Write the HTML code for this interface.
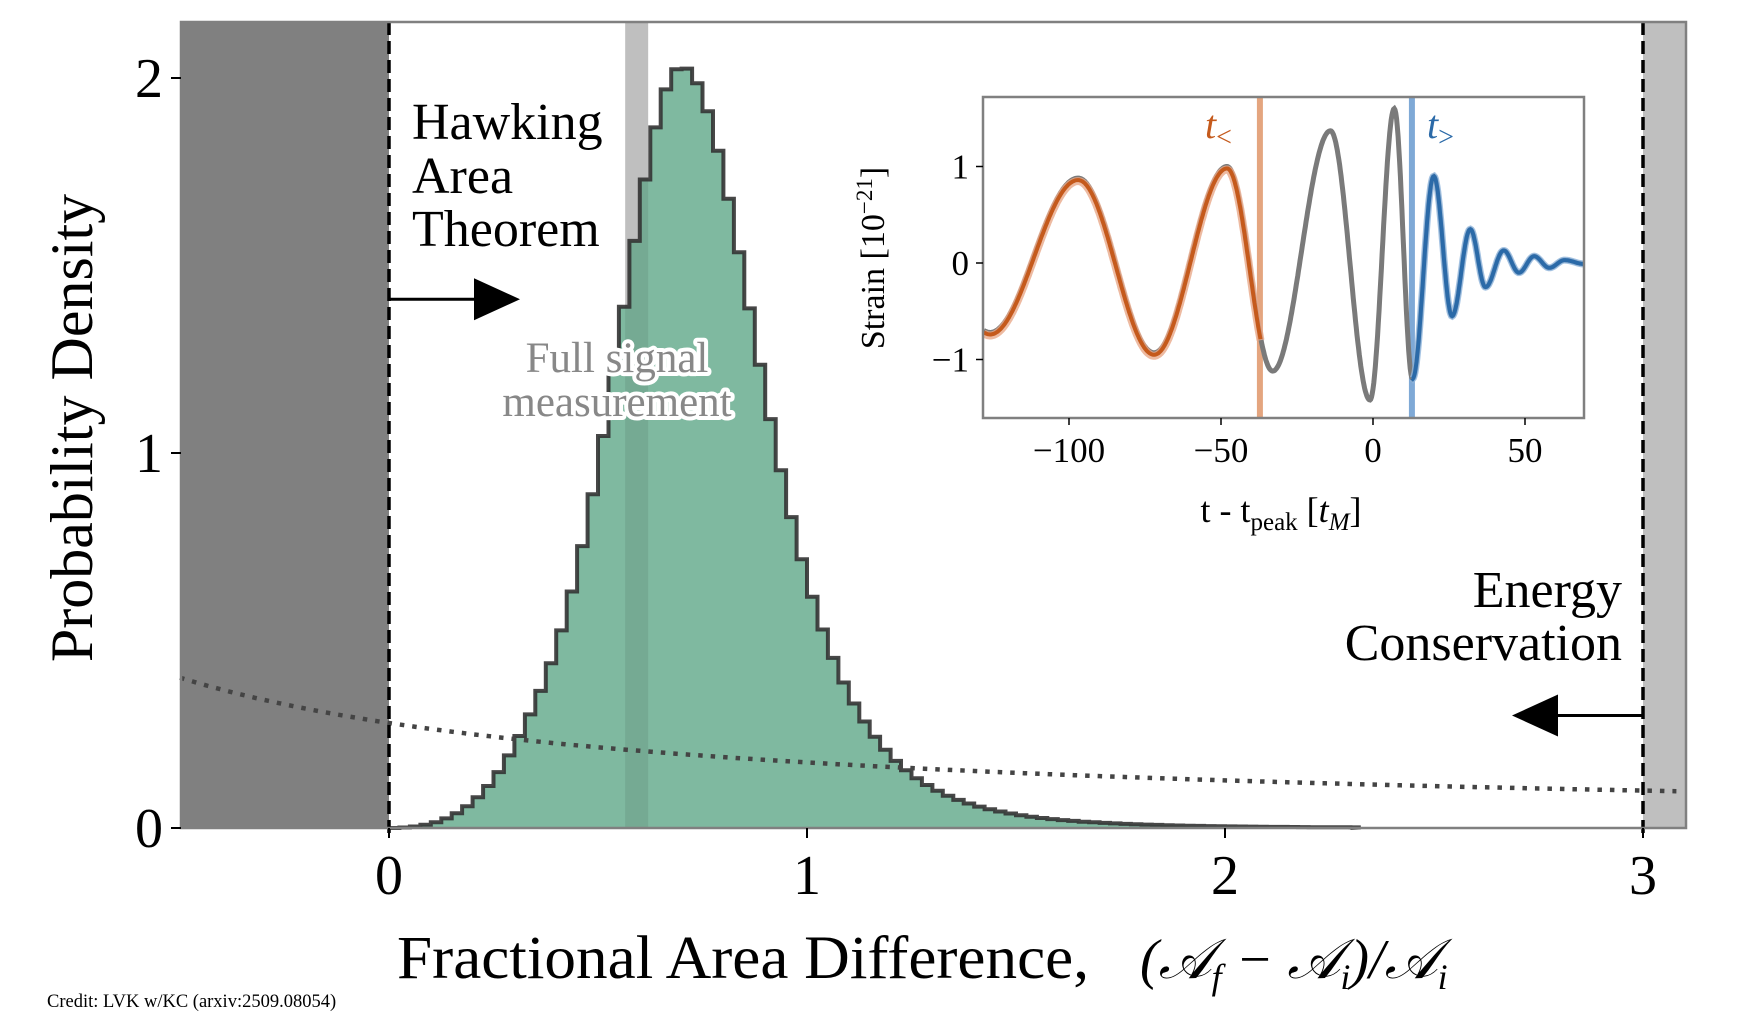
<!DOCTYPE html>
<html><head><meta charset="utf-8"><style>
html,body{margin:0;padding:0;background:#fff}
svg{display:block}
text{font-family:"Liberation Serif",serif}
</style></head><body>
<svg id="s" width="1742" height="1036" viewBox="0 0 1742 1036" xmlns="http://www.w3.org/2000/svg"></svg>
<script>
const S=document.getElementById('s');
let h='';
const X=x=>389+x*418, Y=y=>828-y*375;
const L=181,R=1686,T=22,B=828;
h+=`<rect x="${L}" y="${T}" width="${X(0)-L}" height="${B-T}" fill="#808080"/>`;
h+=`<rect x="${X(3)}" y="${T}" width="${R-X(3)}" height="${B-T}" fill="#bfbfbf"/>`;
h+=`<rect x="${X(0.565)}" y="${T}" width="${X(0.62)-X(0.565)}" height="${B-T}" fill="#bfbfbf"/>`;
function f(x){const m=0.7;const d=x-m;const s=d<0?0.17:0.2;const u=d/s;let v=2.03*Math.pow(1+u*u/4,-2.5);
 if(x<0.35){const c=Math.max(0,x/0.35);v*=c*c*(3-2*c);} return v;}
let p=`M${X(0)} ${Y(0)}`;const w=0.025;
for(let x=0;x<2.3;x+=w){const v=f(x+w/2);p+=` L${X(x).toFixed(1)} ${Y(v).toFixed(1)} L${X(x+w).toFixed(1)} ${Y(v).toFixed(1)}`;}
p+=` L${X(2.3)} ${Y(0)}`;
h+=`<defs><clipPath id="hc"><path d="${p} Z"/></clipPath></defs>`;
h+=`<path d="${p} Z" fill="#7fb9a0"/>`;
h+=`<rect x="${X(0.565)}" y="${T}" width="${X(0.62)-X(0.565)}" height="${B-T}" fill="rgba(0,0,0,0.08)" clip-path="url(#hc)"/>`;
h+=`<path d="${p}" fill="none" stroke="#333" stroke-width="4" opacity="0.9"/>`;
let d='';for(let x=-0.5;x<=3.1;x+=0.02){const v=0.465/(x+1.66);d+=(d?' L':'M')+X(x).toFixed(1)+' '+Y(v).toFixed(1);}
h+=`<path d="${d}" fill="none" stroke="#444" stroke-width="4.5" stroke-dasharray="4.5 8"/>`;
h+=`<line x1="${X(0)}" y1="${T}" x2="${X(0)}" y2="${B+10}" stroke="#000" stroke-width="3.5" stroke-dasharray="13 6"/>`;
h+=`<line x1="${X(3)}" y1="${T}" x2="${X(3)}" y2="${B+10}" stroke="#000" stroke-width="3.5" stroke-dasharray="13 6"/>`;
let ay=Y(1.41);
h+=`<line x1="${X(0)}" y1="${ay}" x2="${X(0)+90}" y2="${ay}" stroke="#000" stroke-width="3"/><polygon points="${X(0)+85},${ay-21} ${X(0)+131},${ay} ${X(0)+85},${ay+21}" fill="#000"/>`;
ay=Y(0.30);
h+=`<line x1="${X(3)}" y1="${ay}" x2="${X(3)-90}" y2="${ay}" stroke="#000" stroke-width="3"/><polygon points="${X(3)-85},${ay-21} ${X(3)-131},${ay} ${X(3)-85},${ay+21}" fill="#000"/>`;
h+=`<rect x="${L}" y="${T}" width="${R-L}" height="${B-T}" fill="none" stroke="#808080" stroke-width="2.5"/>`;
[0,1,2].forEach(v=>{h+=`<line x1="${L-10}" y1="${Y(v)}" x2="${L}" y2="${Y(v)}" stroke="#000" stroke-width="2"/><text x="${L-18}" y="${Y(v)+19}" font-size="56" text-anchor="end">${v}</text>`;});
[0,1,2,3].forEach(v=>{h+=`<line x1="${X(v)}" y1="${B}" x2="${X(v)}" y2="${B+10}" stroke="#000" stroke-width="2"/><text x="${X(v)}" y="${B+66}" font-size="56" text-anchor="middle">${v}</text>`;});
h+=`<text x="0" y="0" font-size="60" text-anchor="middle" transform="translate(92,428) rotate(-90)">Probability Density</text>`;
h+=`<text x="397" y="978" font-size="61" textLength="692" lengthAdjust="spacingAndGlyphs">Fractional Area Difference,</text>`;
h+=`<text x="1140" y="978" font-size="56" font-style="italic">(𝒜<tspan font-size="36" dy="11">f</tspan><tspan dy="-11"> − 𝒜</tspan><tspan font-size="36" dy="11">i</tspan><tspan dy="-11">)/𝒜</tspan><tspan font-size="36" dy="11">i</tspan></text>`;
h+=`<text font-size="52" x="412" y="139">Hawking</text><text font-size="52" x="412" y="193">Area</text><text font-size="52" x="412" y="246">Theorem</text>`;
h+=`<text font-size="52" x="1622" y="607" text-anchor="end">Energy</text><text font-size="52" x="1622" y="660" text-anchor="end">Conservation</text>`;
h+=`<g font-size="43" text-anchor="middle" stroke-linejoin="round"><text x="617" y="372" stroke="#fff" stroke-width="8" fill="#fff">Full signal</text><text x="617" y="372" fill="#888">Full signal</text><text x="617" y="416" stroke="#fff" stroke-width="8" fill="#fff">measurement</text><text x="617" y="416" fill="#888">measurement</text></g>`;
h+=`<text x="47" y="1007" font-size="18.5">Credit: LVK w/KC (arxiv:2509.08054)</text>`;
const iL=983,iR=1584,iT=97,iB=418;
const tx=t=>1373+t*3.04, ty=y=>263-y*96.5;
h+=`<rect x="${iL}" y="${iT}" width="${iR-iL}" height="${iB-iT}" fill="#fff"/>`;
const ex=[[-130,-0.68],[-126,-0.72],[-97,0.88],[-72,-0.93],[-48,1.0],[-33,-1.12],[-14,1.37],[-1,-1.42],[7,1.6],[13,-1.2],[20,0.9],[26,-0.55],[32,0.35],[37,-0.25],[43,0.13],[48,-0.1],[53,0.07],[58,-0.05],[63,0.03],[69.5,-0.01]];
function wv(t){for(let i=0;i<ex.length-1;i++){const a=ex[i],b=ex[i+1];if(t>=a[0]&&t<=b[0]){const u=(t-a[0])/(b[0]-a[0]);const c=(1-Math.cos(Math.PI*u))/2;return a[1]+(b[1]-a[1])*c;}}return 0;}
function seg(t0,t1,o){o=o||0;let s='';for(let t=t0;t<=t1;t+=0.25){const tt=Math.max(-128,Math.min(69.4,t));s+=(s?' L':'M')+tx(tt).toFixed(1)+' '+(ty(wv(tt))+o).toFixed(1);}return s;}
h+=`<line x1="${tx(-37.2)}" y1="${iT}" x2="${tx(-37.2)}" y2="${iB}" stroke="#e4a57f" stroke-width="6"/>`;
h+=`<line x1="${tx(12.8)}" y1="${iT}" x2="${tx(12.8)}" y2="${iB}" stroke="#7fa9d6" stroke-width="6"/>`;
h+=`<path d="${seg(-128,69.4)}" fill="none" stroke="#7a7a7a" stroke-width="5"/>`;
h+=`<path d="${seg(-128,-37,3)}" fill="none" stroke="#e8a98a" stroke-width="8" opacity="0.8"/>`;
h+=`<path d="${seg(-128,-37,2)}" fill="none" stroke="#c55a1c" stroke-width="4"/>`;
h+=`<path d="${seg(12.8,69.4)}" fill="none" stroke="#8db4dc" stroke-width="7" opacity="0.8"/>`;
h+=`<path d="${seg(12.8,69.4)}" fill="none" stroke="#2b6aa8" stroke-width="4"/>`;
h+=`<rect x="${iL}" y="${iT}" width="${iR-iL}" height="${iB-iT}" fill="none" stroke="#808080" stroke-width="2.5"/>`;
[[-100,'−100'],[-50,'−50'],[0,'0'],[50,'50']].forEach(([v,s])=>{h+=`<line x1="${tx(v)}" y1="${iB}" x2="${tx(v)}" y2="${iB+7}" stroke="#000" stroke-width="1.5"/><text x="${tx(v)}" y="${iB+44}" font-size="35" text-anchor="middle">${s}</text>`;});
[[1,'1'],[0,'0'],[-1,'−1']].forEach(([v,s])=>{h+=`<line x1="${iL-7}" y1="${ty(v)}" x2="${iL}" y2="${ty(v)}" stroke="#000" stroke-width="1.5"/><text x="${iL-14}" y="${ty(v)+12}" font-size="35" text-anchor="end">${s}</text>`;});
h+=`<text font-size="36" text-anchor="middle" x="1281" y="522">t - t<tspan font-size="25" dy="8">peak</tspan><tspan dy="-8"> [</tspan><tspan font-style="italic">t</tspan><tspan font-style="italic" font-size="25" dy="8">M</tspan><tspan dy="-8">]</tspan></text>`;
h+=`<text font-size="34" text-anchor="middle" transform="translate(884,258) rotate(-90)">Strain [10<tspan font-size="23" dy="-12">−21</tspan><tspan dy="12">]</tspan></text>`;
h+=`<text x="1205" y="138" font-size="40" font-style="italic" fill="#c55a1c">t<tspan font-size="28" font-style="normal" dy="8">&lt;</tspan></text>`;
h+=`<text x="1427" y="138" font-size="40" font-style="italic" fill="#2b6aa8">t<tspan font-size="28" font-style="normal" dy="8">&gt;</tspan></text>`;
S.innerHTML=h;
</script>
</body></html>
